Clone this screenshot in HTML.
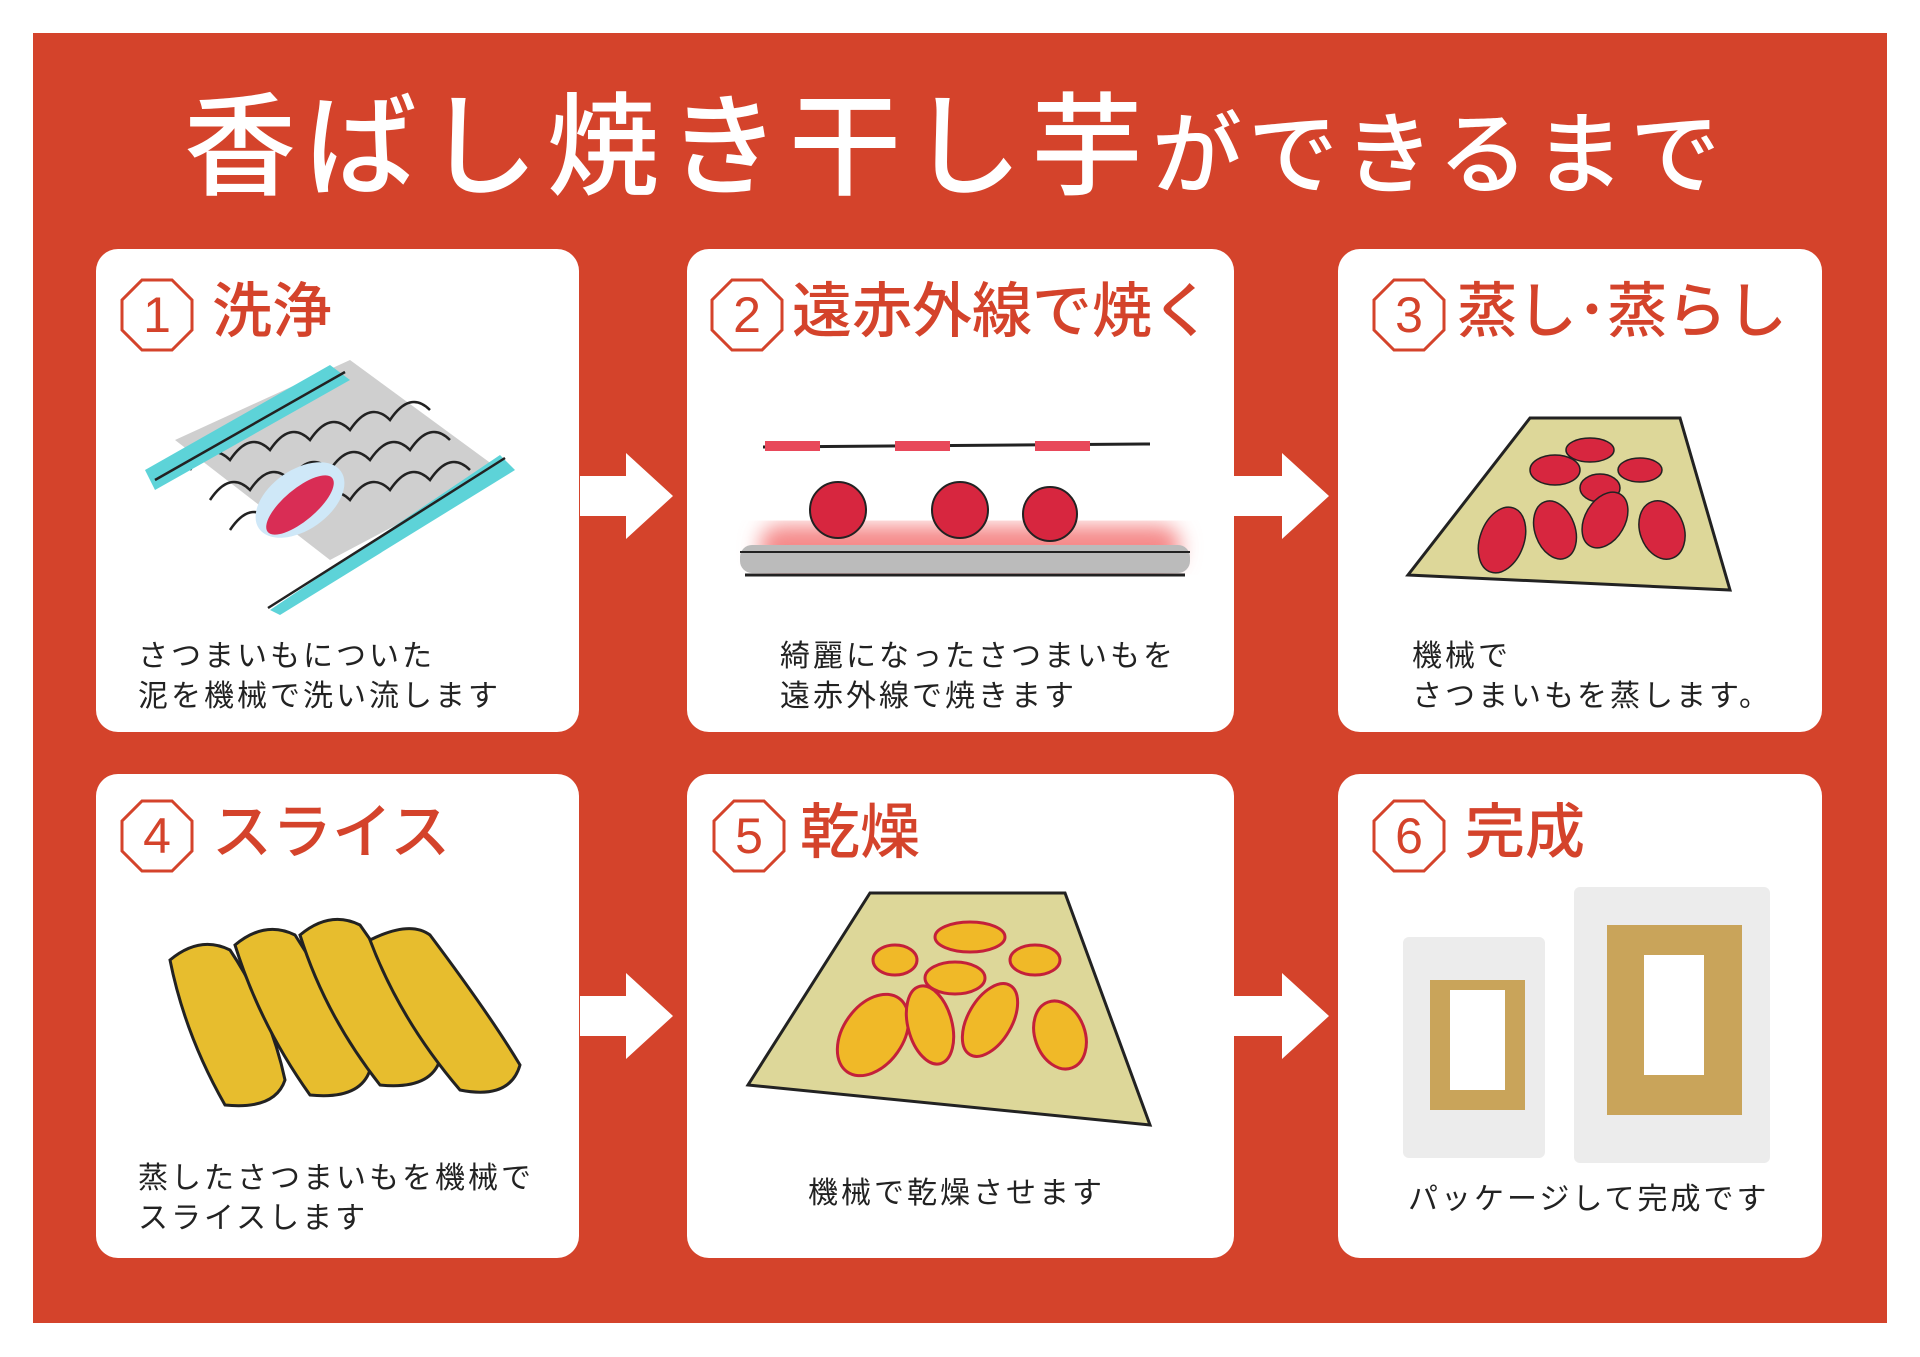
<!DOCTYPE html>
<html><head><meta charset="utf-8"><style>
*{margin:0;padding:0;box-sizing:border-box}
body{width:1920px;height:1357px;background:#fff;position:relative;overflow:hidden;font-family:"Liberation Sans","Noto Sans CJK JP",sans-serif}
.bg{position:absolute;left:33px;top:33px;width:1854px;height:1290px;background:#d4432b}
.card{position:absolute;background:#fff;border-radius:22px}
.t{position:absolute;white-space:nowrap}
.title{color:#fff;font-weight:500;top:78px;left:184px;font-size:112px;letter-spacing:9px;line-height:140px}
.title small{font-size:90px;letter-spacing:6px}
.h{color:#d4432b;font-size:60px;font-weight:500;line-height:70px}
.d{color:#222;font-size:30px;line-height:40px;letter-spacing:3px}
</style></head><body>
<div class="bg"></div>
<div class="t title">香ばし焼き干し芋<small>ができるまで</small></div>

<div class="card" style="left:96px;top:249px;width:483px;height:483px"></div>
<div class="card" style="left:687px;top:249px;width:547px;height:483px"></div>
<div class="card" style="left:1338px;top:249px;width:484px;height:483px"></div>
<div class="card" style="left:96px;top:774px;width:483px;height:484px"></div>
<div class="card" style="left:687px;top:774px;width:547px;height:484px"></div>
<div class="card" style="left:1338px;top:774px;width:484px;height:484px"></div>

<svg width="1920" height="1357" style="position:absolute;left:0;top:0">
<defs>
<g id="oct"><polygon points="22,2 52,2 72,22 72,52 52,72 22,72 2,52 2,22" fill="none" stroke="#d4432b" stroke-width="3"/></g>
<filter id="blur"><feGaussianBlur stdDeviation="10"/></filter>
</defs>
<g fill="#fff">
<polygon points="580,476 626,476 626,453 673,496 626,539 626,516 580,516"/>
<polygon points="1234,476 1282,476 1282,453 1329,496 1282,539 1282,516 1234,516"/>
<polygon points="580,996 626,996 626,973 673,1016 626,1059 626,1036 580,1036"/>
<polygon points="1234,996 1282,996 1282,973 1329,1016 1282,1059 1282,1036 1234,1036"/>
</g>
<g transform="translate(120,278)"><use href="#oct"/><text x="37" y="54" text-anchor="middle" font-size="50" fill="#d4432b" font-family="Liberation Sans">1</text></g>
<g transform="translate(710,278)"><use href="#oct"/><text x="37" y="54" text-anchor="middle" font-size="50" fill="#d4432b" font-family="Liberation Sans">2</text></g>
<g transform="translate(1372,278)"><use href="#oct"/><text x="37" y="54" text-anchor="middle" font-size="50" fill="#d4432b" font-family="Liberation Sans">3</text></g>
<g transform="translate(120,799)"><use href="#oct"/><text x="37" y="54" text-anchor="middle" font-size="50" fill="#d4432b" font-family="Liberation Sans">4</text></g>
<g transform="translate(712,799)"><use href="#oct"/><text x="37" y="54" text-anchor="middle" font-size="50" fill="#d4432b" font-family="Liberation Sans">5</text></g>
<g transform="translate(1372,799)"><use href="#oct"/><text x="37" y="54" text-anchor="middle" font-size="50" fill="#d4432b" font-family="Liberation Sans">6</text></g>

<g>
<polygon points="175,440 350,360 500,470 330,560" fill="#cfcfcf"/>
<g fill="none" stroke="#222" stroke-width="2.5">
<path d="M190,470 q20,-30 40,-10 q20,-30 40,-10 q20,-30 40,-10 q20,-30 40,-10 q20,-30 40,-10 q20,-30 40,-10"/>
<path d="M230,530 q20,-30 40,-10 q20,-30 40,-10 q20,-30 40,-10 q20,-30 40,-10 q20,-30 40,-10 q20,-30 40,-10"/>
<path d="M210,500 q20,-30 40,-10 q20,-30 40,-10 q20,-30 40,-10 q20,-30 40,-10 q20,-30 40,-10 q20,-30 40,-10"/>
</g>
<path d="M145,470 L330,365 L350,380 L155,490 Z" fill="#5dd3d8"/>
<line x1="155" y1="480" x2="345" y2="372" stroke="#222" stroke-width="2.5"/>
<path d="M270,610 L500,455 L515,470 L280,615 Z" fill="#5dd3d8"/>
<line x1="268" y1="608" x2="505" y2="458" stroke="#222" stroke-width="2.5"/>
<ellipse cx="300" cy="500" rx="50" ry="30" fill="#cfe8f8" transform="rotate(-35 300 500)"/>
<ellipse cx="300" cy="505" rx="42" ry="16" fill="#d92d55" transform="rotate(-40 300 505)"/>
</g>

<g>
<rect x="760" y="525" width="420" height="45" rx="20" fill="#f58a8a" filter="url(#blur)"/>
<line x1="763" y1="447" x2="1150" y2="444" stroke="#222" stroke-width="3"/>
<rect x="765" y="441" width="55" height="10" fill="#e8485a"/>
<rect x="895" y="441" width="55" height="10" fill="#e8485a"/>
<rect x="1035" y="441" width="55" height="10" fill="#e8485a"/>
<rect x="740" y="545" width="450" height="28" rx="12" fill="#bbb"/>
<line x1="740" y1="552" x2="1190" y2="552" stroke="#222" stroke-width="2"/>
<line x1="745" y1="575" x2="1185" y2="575" stroke="#222" stroke-width="3"/>
<g fill="#d7263f" stroke="#222" stroke-width="2">
<circle cx="838" cy="510" r="28"/><circle cx="960" cy="510" r="28"/><circle cx="1050" cy="514" r="27"/>
</g>
</g>

<g>
<polygon points="1530,418 1680,418 1730,590 1408,575" fill="#ddd799" stroke="#222" stroke-width="3"/>
<g fill="#d7263f" stroke="#222" stroke-width="1.5">
<ellipse cx="1555" cy="470" rx="25" ry="15"/><ellipse cx="1590" cy="450" rx="24" ry="12"/><ellipse cx="1640" cy="470" rx="22" ry="12"/>
<ellipse cx="1600" cy="488" rx="20" ry="14"/><ellipse cx="1502" cy="540" rx="22" ry="34" transform="rotate(20 1502 540)"/>
<ellipse cx="1555" cy="530" rx="20" ry="30" transform="rotate(-20 1555 530)"/>
<ellipse cx="1605" cy="520" rx="20" ry="30" transform="rotate(30 1605 520)"/>
<ellipse cx="1662" cy="530" rx="22" ry="30" transform="rotate(-20 1662 530)"/>
</g>
</g>

<g fill="#e7bd2e" stroke="#222" stroke-width="3">
<path d="M170,960 q30,-25 60,-10 q40,60 55,130 q-10,30 -60,25 q-40,-70 -55,-145z"/>
<path d="M235,945 q30,-25 60,-10 q45,70 75,135 q-10,30 -60,25 q-50,-70 -75,-150z"/>
<path d="M300,935 q30,-25 60,-10 q50,70 80,135 q-10,30 -60,25 q-55,-70 -80,-150z"/>
<path d="M370,940 q40,-20 60,-5 q60,80 90,130 q-10,35 -60,25 q-60,-70 -90,-150z"/>
</g>

<g>
<polygon points="870,893 1065,893 1150,1125 748,1085" fill="#ddd799" stroke="#222" stroke-width="3"/>
<g fill="#f0b928" stroke="#c4203a" stroke-width="3">
<ellipse cx="895" cy="960" rx="22" ry="15"/><ellipse cx="970" cy="937" rx="35" ry="15"/><ellipse cx="1035" cy="960" rx="25" ry="15"/>
<ellipse cx="955" cy="978" rx="30" ry="16"/><ellipse cx="873" cy="1035" rx="30" ry="45" transform="rotate(35 873 1035)"/>
<ellipse cx="930" cy="1025" rx="22" ry="40" transform="rotate(-15 930 1025)"/>
<ellipse cx="990" cy="1020" rx="22" ry="40" transform="rotate(30 990 1020)"/>
<ellipse cx="1060" cy="1035" rx="25" ry="35" transform="rotate(-20 1060 1035)"/>
</g>
</g>

<rect x="1403" y="937" width="142" height="221" rx="6" fill="#ececec"/>
<rect x="1430" y="980" width="95" height="130" fill="#c9a45a"/>
<rect x="1450" y="990" width="55" height="100" fill="#fff"/>
<rect x="1574" y="887" width="196" height="276" rx="6" fill="#ececec"/>
<rect x="1607" y="925" width="135" height="190" fill="#c9a45a"/>
<rect x="1644" y="955" width="60" height="120" fill="#fff"/>
</svg>

<div class="t h" style="left:212px;top:277px">洗浄</div>
<div class="t h" style="left:792px;top:277px">遠赤外線で焼く</div>
<div class="t h" style="left:1457px;top:277px">蒸し･蒸らし</div>
<div class="t h" style="left:212px;top:798px">スライス</div>
<div class="t h" style="left:800px;top:798px">乾燥</div>
<div class="t h" style="left:1465px;top:798px">完成</div>

<div class="t d" style="left:138px;top:637px">さつまいもについた<br>泥を機械で洗い流します</div>
<div class="t d" style="left:780px;top:637px">綺麗になったさつまいもを<br>遠赤外線で焼きます</div>
<div class="t d" style="left:1412px;top:637px">機械で<br>さつまいもを蒸します。</div>
<div class="t d" style="left:138px;top:1159px">蒸したさつまいもを機械で<br>スライスします</div>
<div class="t d" style="left:808px;top:1174px">機械で乾燥させます</div>
<div class="t d" style="left:1408px;top:1180px">パッケージして完成です</div>
</body></html>
